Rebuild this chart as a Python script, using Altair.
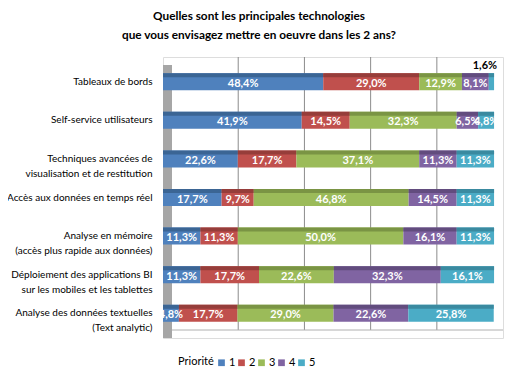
import altair as alt
import pandas as pd

categories = [
    "Tableaux de bords",
    "Self-service utilisateurs",
    "Techniques avancées de\nvisualisation et de restitution",
    "Accès aux données en temps réel",
    "Analyse en mémoire\n(accès plus rapide aux données)",
    "Déploiement des applications BI\nsur les mobiles et les tablettes",
    "Analyse des données textuelles\n(Text analytic)",
]
priorities = ["1", "2", "3", "4", "5"]
p1 = [48.4, 41.9, 22.6, 17.7, 11.3, 11.3, 4.8]
p2 = [29.0, 14.5, 17.7, 9.7, 11.3, 17.7, 17.7]
p3 = [12.9, 32.3, 37.1, 46.8, 50.0, 22.6, 29.0]
p4 = [8.1, 6.5, 11.3, 14.5, 16.1, 32.3, 22.6]
p5 = [1.6, 4.8, 11.3, 11.3, 11.3, 16.1, 25.8]
colors = ["#4F81BD", "#C0504D", "#9BBB59", "#8064A2", "#4BACC6"]
top_colors = ["#3B6594", "#963D3A", "#7A9444", "#624C7E", "#3A8AA0"]
gridlines = [20, 40, 60, 80]
title_lines = ["Quelles sont les principales technologies",
               "que vous envisagez mettre en oeuvre dans les 2 ans?"]

series = [p1, p2, p3, p4, p5]
rows = []
for i, cat in enumerate(categories):
    start = 0.0
    for j, pr in enumerate(priorities):
        v = series[j][i]
        rows.append({
            "cat": cat, "prio": pr, "value": v,
            "start": start, "end": start + v, "mid": start + v / 2,
            "label": f"{v:.1f}".replace(".", ",") + "%",
            "top": top_colors[j],
        })
        start += v
df = pd.DataFrame(rows)
grid_df = pd.DataFrame({"g": gridlines})

FONT = "Lato"

y_enc = alt.Y("cat:N", sort=categories,
              scale=alt.Scale(domain=categories, paddingInner=0.56, paddingOuter=0.42),
              axis=alt.Axis(title=None, domain=False, ticks=False, grid=False,
                            labelPadding=11, labelFontSize=10, labelFont=FONT,
                            labelColor="#000000", labelLineHeight=15,
                            labelLimit=300,
                            labelExpr="split(datum.label, '\\n')"))
x_scale = alt.Scale(domain=[0, 102.7], nice=False, zero=True)

base = alt.Chart(df)

side_wall = alt.Chart(grid_df.head(1)).mark_rect(color="#A6A6A6").encode(
    x=alt.value(0), x2=alt.value(9), y=alt.value(8), y2=alt.value(281))

floor_line = alt.Chart(grid_df.head(1)).mark_rule(color="#B0B0B0").encode(
    x=alt.value(9), x2=alt.value(340), y=alt.value(273))

grid = alt.Chart(grid_df).mark_rule(color="#8C8C8C", strokeWidth=1, xOffset=9).encode(
    x=alt.X("g:Q", scale=x_scale, axis=None),
    y=alt.value(0), y2=alt.value(273))

bars = base.mark_bar(size=17).encode(
    x=alt.X("start:Q", scale=x_scale, axis=None),
    x2="end:Q",
    y=y_enc,
    color=alt.Color("prio:N", scale=alt.Scale(domain=priorities, range=colors),
                    legend=alt.Legend(title="Priorité", orient="none", legendX=15,
                                      legendY=300, direction="horizontal",
                                      titleOrient="left", symbolType="square",
                                      symbolSize=45, labelFontSize=11,
                                      titleFontSize=11, titleFontWeight="normal",
                                      titleFont=FONT, labelFont=FONT,
                                      titlePadding=2, columnPadding=0,
                                      labelOffset=2, symbolStrokeWidth=0)),
)

tops = base.mark_bar(size=4, yOffset=-6.5).encode(
    x=alt.X("start:Q", scale=x_scale, axis=None),
    x2="end:Q",
    y=alt.Y("cat:N", sort=categories),
    color=alt.Color("top:N", scale=None),
)

labels_in = base.transform_filter("datum.value >= 3").mark_text(
    color="white", fontWeight="bold", fontSize=11, font=FONT, dy=2
).encode(
    x=alt.X("mid:Q", scale=x_scale),
    y=alt.Y("cat:N", sort=categories),
    text="label:N",
)

labels_out = base.transform_filter("datum.value < 3").mark_text(
    color="black", fontWeight="bold", fontSize=11, font=FONT, dy=-16, align="right", dx=3
).encode(
    x=alt.X("end:Q", scale=x_scale),
    y=alt.Y("cat:N", sort=categories),
    text="label:N",
)

chart = alt.layer(side_wall, grid, floor_line, bars, tops, labels_in, labels_out).properties(
    width=340, height=281,
    title=alt.TitleParams(text=title_lines, anchor="middle", frame="group", dx=-74,
                          offset=15, fontSize=11.8, font=FONT, fontWeight="bold",
                          lineHeight=19, color="#000000"),
    autosize=alt.AutoSizeParams(type="none"),
    padding={"left": 155, "top": 49, "right": 8, "bottom": 34},
).configure_view(fill="#D9D9D9", stroke=None).configure(background="white")

chart.save("out.html", embed_options={"renderer": "svg", "actions": False})
